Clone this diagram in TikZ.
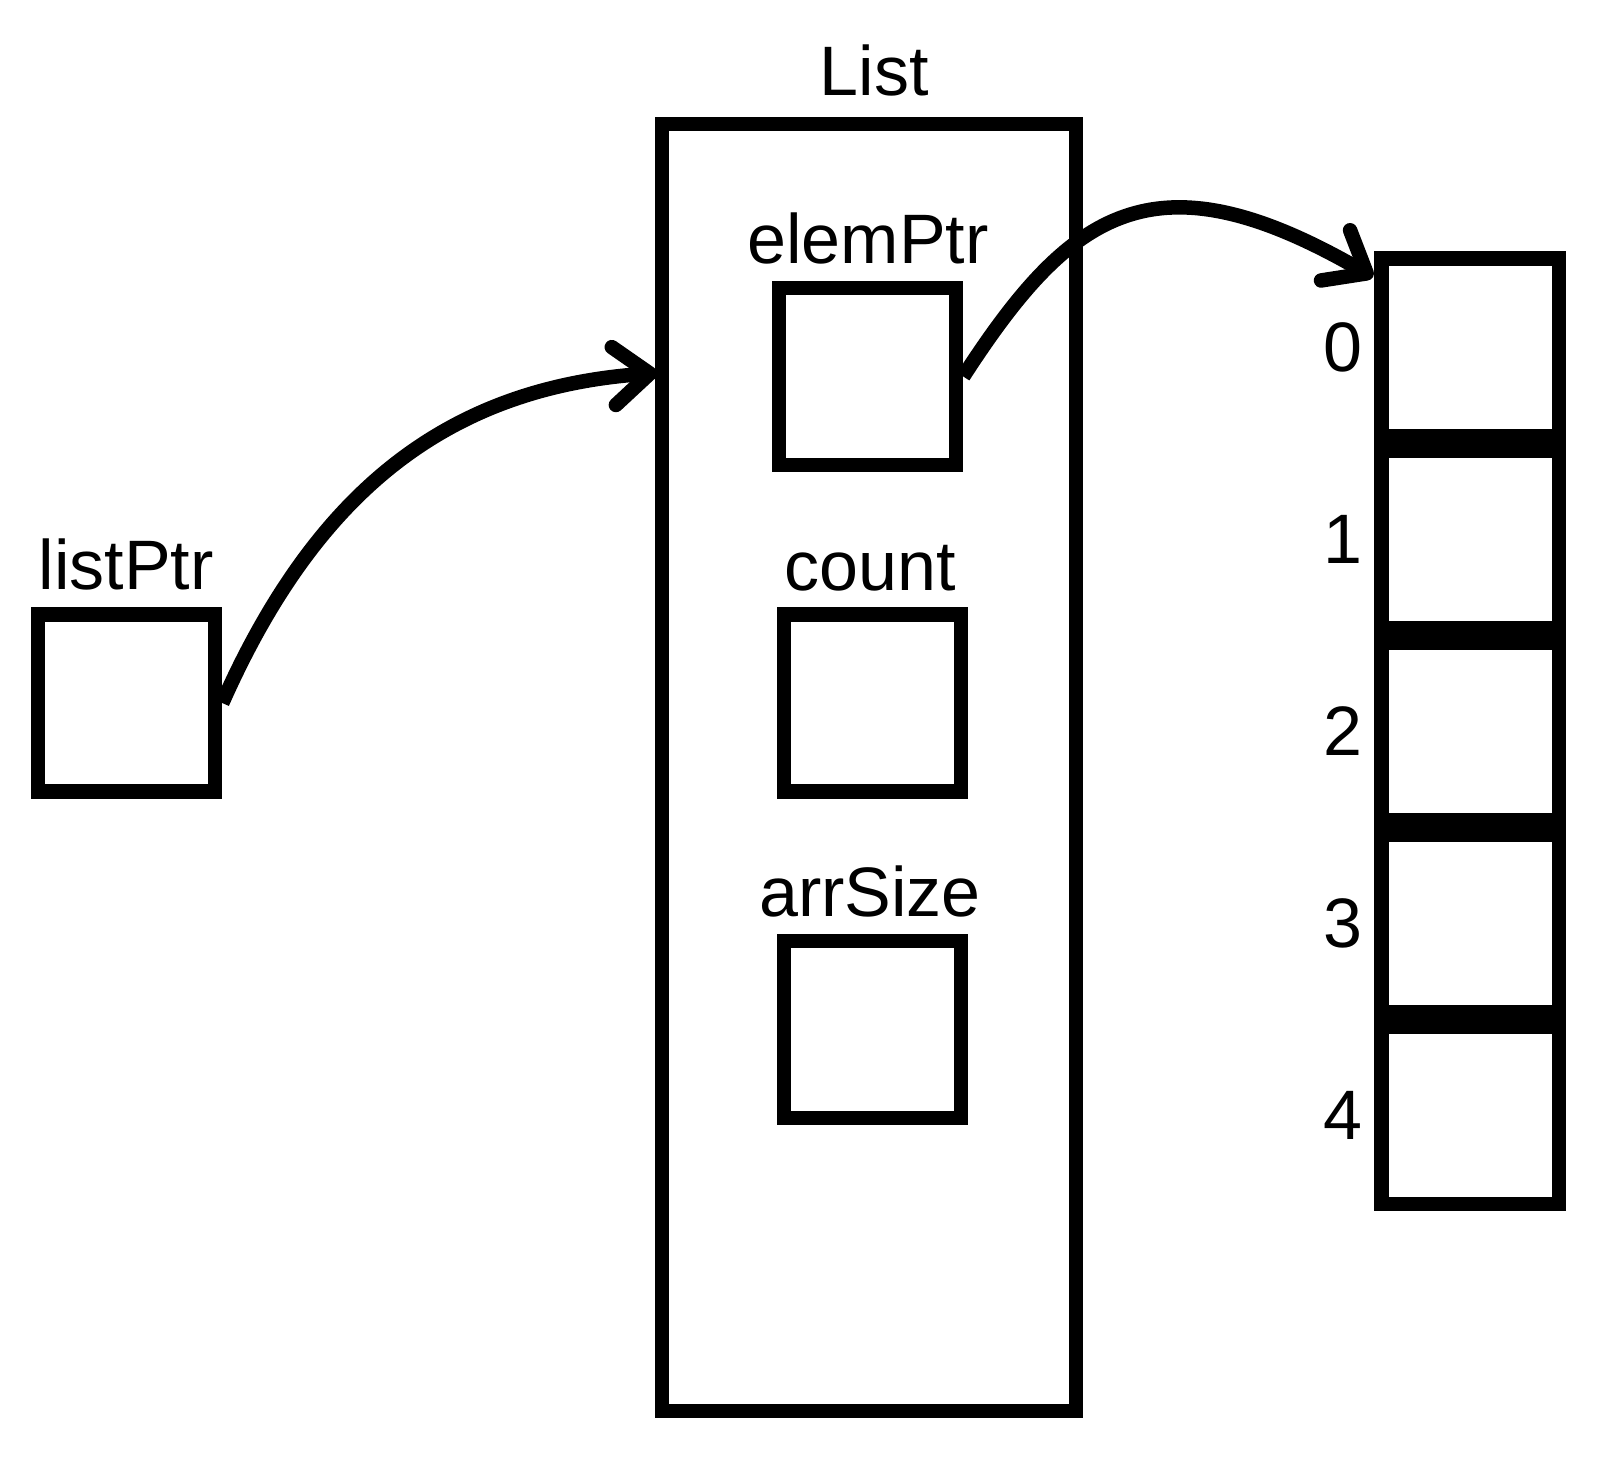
\documentclass[tikz,border=0pt]{standalone}
\usepackage{fontspec}
\setmainfont{Liberation Sans}
\usetikzlibrary{arrows.meta}
\begin{document}
\begin{tikzpicture}[x=0.5pt,y=-0.5pt,
  box/.style={draw,line width=7.25pt,minimum width=88.5pt,minimum height=88.5pt,inner sep=0pt},
  cellbox/.style={draw,line width=7.25pt,minimum width=88.75pt,minimum height=88.75pt,inner sep=0pt},
  lbl/.style={anchor=base,inner sep=0pt,font=\fontsize{35}{41}\selectfont},
  idx/.style={inner sep=0pt,font=\fontsize{35}{41}\selectfont},
  ptr/.style={line width=7.25pt,-{Straight Barb[length=18pt,width=29pt,round]}}]
\fill[white] (0,0) rectangle (1613,1462);
\useasboundingbox (0,0) rectangle (1613,1462);
% List structure
\node[draw,line width=7.25pt,minimum width=207pt,minimum height=643.5pt,inner sep=0pt] (list) at (869,767.5) {};
\node[lbl] (listlbl) at (874,95) {List};
\node[box] (lp) at (126.5,703) {};
\node[lbl] (lplbl) at (126,589) {listPtr};
\node[box] (ep) at (867.5,376.5) {};
\node[lbl] (eplbl) at (868,263) {elemPtr};
\node[box] (cnt) at (872.5,703) {};
\node[lbl] (cntlbl) at (870,590) {count};
\node[box] (as) at (872.5,1029.5) {};
\node[lbl] (aslbl) at (870,916) {arrSize};
% array
\foreach \i in {0,...,4}{
  \node[cellbox] (c\i) at (1470.25,347+192*\i) {};
  \node[idx] (n\i) at (1343,347+192*\i) {\i};
}
% pointers
\coordinate (t1) at (657,373);
\coordinate (t2) at (1373,277);
\draw[ptr] (lp.east) .. controls (315,494) and (445,388) .. (t1);
\draw[ptr] (ep.east) .. controls (1071,210) and (1155,151) .. (t2);
\end{tikzpicture}
\end{document}
